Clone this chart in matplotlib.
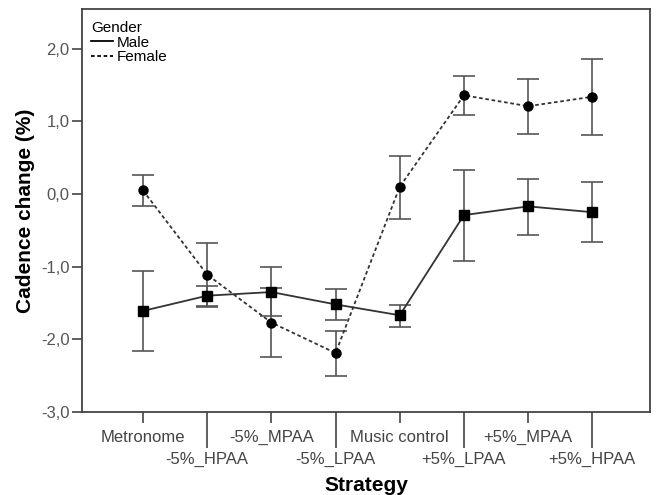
import numpy as np
import matplotlib.pyplot as plt

strategies = ["Metronome", "-5%_HPAA", "-5%_MPAA", "-5%_LPAA",
              "Music control", "+5%_LPAA", "+5%_MPAA", "+5%_HPAA"]

male_mean = [-1.61, -1.40, -1.35, -1.52, -1.67, -0.29, -0.17, -0.25]
male_low = [-2.16, -1.54, -1.68, -1.73, -1.83, -0.92, -0.57, -0.66]
male_high = [-1.06, -1.26, -1.01, -1.31, -1.53, 0.33, 0.21, 0.16]

female_mean = [0.05, -1.11, -1.77, -2.19, 0.10, 1.36, 1.21, 1.34]
female_low = [-0.16, -1.55, -2.24, -2.50, -0.34, 1.09, 0.83, 0.81]
female_high = [0.26, -0.67, -1.30, -1.88, 0.53, 1.63, 1.59, 1.86]

plt.rcParams['font.family'] = ['Liberation Sans', 'DejaVu Sans']

fig = plt.figure(figsize=(6.56, 4.95), dpi=100)
ax = fig.add_axes([0.125, 0.168, 0.866, 0.814])

x = np.arange(len(strategies))


def draw(mean, low, high, ls, marker):
    mean = np.array(mean)
    yerr = [mean - np.array(low), np.array(high) - mean]
    ax.errorbar(x, mean, yerr=yerr, fmt='none', ecolor='#555555',
                elinewidth=1.2, capsize=8, capthick=1.2, zorder=2)
    ax.plot(x, mean, ls=ls, color='#333333', lw=1.3, zorder=3)
    ax.plot(x, mean, ls='none', marker=marker, color='black',
            markersize=6.5, zorder=4)


draw(male_mean, male_low, male_high, '-', 's')
draw(female_mean, female_low, female_high, (0, (2, 1.5)), 'o')

ax.set_xlim(-0.95, 7.9)
ax.set_ylim(-3.0, 2.55)
ax.set_yticks([-3, -2, -1, 0, 1, 2])
ax.set_yticklabels([f"{v:.1f}".replace('.', ',') for v in [-3, -2, -1, 0, 1, 2]])

# even categories on the upper row (major), odd ones on the lower row (minor)
ax.set_xticks(x[::2])
ax.set_xticklabels(strategies[::2])
ax.set_xticks(x[1::2], minor=True)
ax.set_xticklabels(strategies[1::2], minor=True)
ax.tick_params(axis='x', which='major', direction='out', length=8, width=1.2,
               color='#444444', labelsize=12, labelcolor='#444444', pad=5)
ax.tick_params(axis='x', which='minor', direction='out', length=26, width=1.2,
               color='#444444', labelsize=12, labelcolor='#444444', pad=3)
ax.tick_params(axis='y', direction='out', length=7, width=1.2, color='#444444',
               labelsize=12, labelcolor='#555555', pad=2)

for s in ax.spines.values():
    s.set_color('#444444')
    s.set_linewidth(1.3)

ax.set_xlabel("Strategy", fontsize=15, fontweight='bold')
ax.xaxis.set_label_coords(0.5, -0.158)
ax.set_ylabel("Cadence change (%)", fontsize=15, fontweight='bold', labelpad=4)

h1, = ax.plot([], [], '-', color='black', lw=1.3)
h2, = ax.plot([], [], ls=(0, (2, 1.5)), color='black', lw=1.3)
leg = ax.legend([h1, h2], ["Male", "Female"], title="Gender", loc='upper left',
                bbox_to_anchor=(0.0, 0.993),
                frameon=False, fontsize=11, title_fontsize=11, handlelength=1.4,
                handletextpad=0.3, labelspacing=0.05, borderaxespad=0.2,
                alignment='left')

fig.savefig("out.png", dpi=100)
